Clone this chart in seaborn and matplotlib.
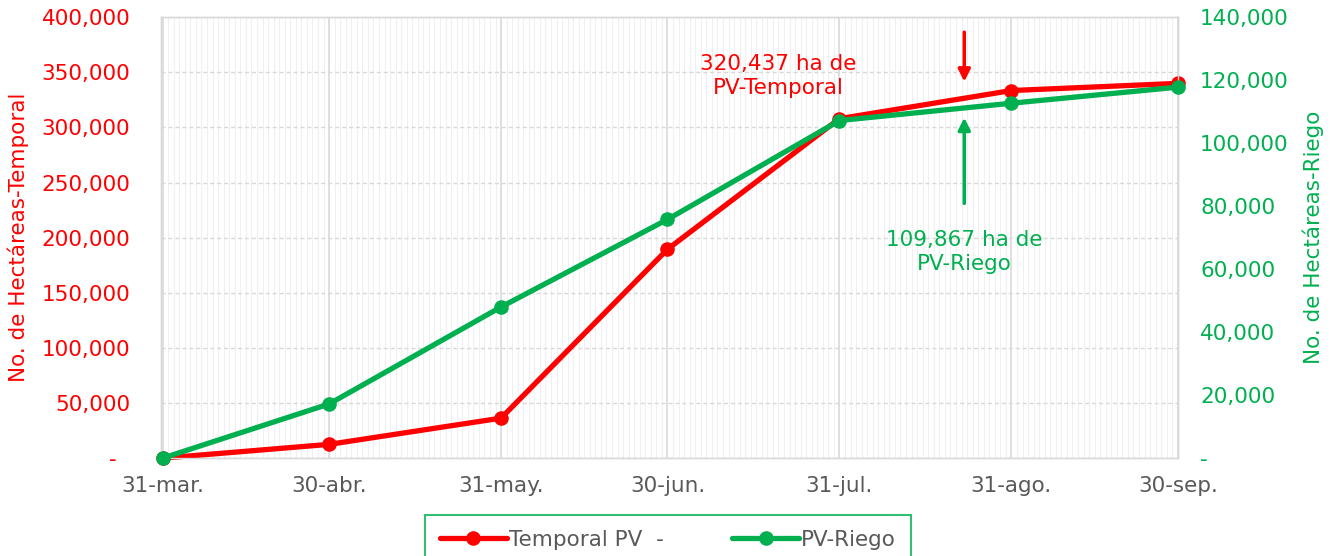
import matplotlib
matplotlib.use("Agg")
import matplotlib.pyplot as plt
import matplotlib.dates as mdates
import matplotlib.ticker as mticker
from matplotlib.lines import Line2D
import seaborn as sns
import pandas as pd

fechas = ["2023-03-31", "2023-04-30", "2023-05-31", "2023-06-30",
          "2023-07-31", "2023-08-31", "2023-09-30"]
etiquetas_x = ["31-mar.", "30-abr.", "31-may.", "30-jun.", "31-jul.", "31-ago.", "30-sep."]
temporal = [0, 12500, 36300, 189500, 308000, 333500, 340000]
riego = [0, 17200, 48000, 75800, 107200, 112700, 117800]
ticks_izq = [0, 50000, 100000, 150000, 200000, 250000, 300000, 350000, 400000]
ticks_der = [0, 20000, 40000, 60000, 80000, 100000, 120000, 140000]

ROJO = "#FF0000"
VERDE = "#00B050"
GRIS = "#595959"
FS = 15.5

sns.set_style("white")
plt.rcParams['font.family'] = ['DejaVu Sans']

df = pd.DataFrame({"fecha": pd.to_datetime(fechas), "temporal": temporal, "riego": riego})

fig = plt.figure(figsize=(13.4, 5.56), dpi=100)
ax = fig.add_axes([0.120, 0.176, 0.759, 0.793])
ax2 = ax.twinx()

sns.lineplot(data=df, x="fecha", y="temporal", ax=ax, color=ROJO, linewidth=3.8,
             marker="o", markersize=10.5, markeredgewidth=0, zorder=3, clip_on=False)
sns.lineplot(data=df, x="fecha", y="riego", ax=ax2, color=VERDE, linewidth=3.8,
             marker="o", markersize=10.5, markeredgewidth=0, zorder=3, clip_on=False)

ax.set_xlim(df["fecha"].iloc[0] - pd.Timedelta(hours=8), df["fecha"].iloc[-1])
ax.set_ylim(0, 400000)
ax2.set_ylim(0, 140000)

ax.set_xticks(df["fecha"])
ax.set_xticklabels(etiquetas_x, color=GRIS, fontsize=FS)
ax.xaxis.set_minor_locator(mdates.DayLocator())

fmt_izq = lambda v, p: "-  " if v == 0 else f"{int(v):,}"
fmt_der = lambda v, p: "-" if v == 0 else f"{int(v):,}"
ax.set_yticks(ticks_izq)
ax.yaxis.set_major_formatter(mticker.FuncFormatter(fmt_izq))
ax2.set_yticks(ticks_der)
ax2.yaxis.set_major_formatter(mticker.FuncFormatter(fmt_der))

ax.tick_params(axis="y", colors=ROJO, labelsize=FS, length=0, pad=22)
ax2.tick_params(axis="y", colors=VERDE, labelsize=FS, length=0, pad=16)
ax.tick_params(axis="x", which="major", length=5, color="#D9D9D9", pad=8)
ax.tick_params(axis="x", which="minor", length=0)

ax.grid(axis="y", which="major", color="#D9D9D9", linestyle=(0, (3, 2)), linewidth=1)
ax.grid(axis="x", which="major", color="#D9D9D9", linestyle="-", linewidth=1.2)
ax.grid(axis="x", which="minor", color="#F0F0F0", linestyle="-", linewidth=0.8)
ax.set_axisbelow(True)

for a in (ax, ax2):
    for s in a.spines.values():
        s.set_color("#D9D9D9")
        s.set_linewidth(1)

ax.set_xlabel("")
ax.set_ylabel("No. de Hectáreas-Temporal", color=ROJO, fontsize=FS, labelpad=9)
ax2.set_ylabel("No. de Hectáreas-Riego", color=VERDE, fontsize=FS, labelpad=10)

x_flecha = pd.Timestamp("2023-08-22 12:00")
ax.annotate("", xy=(x_flecha, 339000), xytext=(x_flecha, 389000),
            arrowprops=dict(arrowstyle="-|>", color=ROJO, lw=2.5, mutation_scale=18))
ax.text(pd.Timestamp("2023-07-20"), 347000, "320,437 ha de\nPV-Temporal", color=ROJO,
        fontsize=FS, ha="center", va="center", linespacing=1.25)
ax2.annotate("", xy=(x_flecha, 109000), xytext=(x_flecha, 80000),
             arrowprops=dict(arrowstyle="-|>", color=VERDE, lw=2.5, mutation_scale=18))
ax2.text(x_flecha, 65500, "109,867 ha de\nPV-Riego", color=VERDE,
         fontsize=FS, ha="center", va="center", linespacing=1.25)

handles = [Line2D([], [], color=ROJO, lw=3.8, marker="o", markersize=10.5, markeredgewidth=0),
           Line2D([], [], color=VERDE, lw=3.8, marker="o", markersize=10.5, markeredgewidth=0)]
leg = fig.legend(handles, ["Temporal PV  -", "PV-Riego"], loc="upper center",
                 bbox_to_anchor=(0.4985, 0.074), ncol=2, frameon=True, fancybox=False,
                 fontsize=FS, handlelength=3.1, columnspacing=3.2, borderpad=0.7,
                 handletextpad=0.1, borderaxespad=0)
leg.get_frame().set_edgecolor(VERDE)
leg.get_frame().set_linewidth(1.5)
for t in leg.get_texts():
    t.set_color(GRIS)
if ax.get_legend():
    ax.get_legend().remove()
if ax2.get_legend():
    ax2.get_legend().remove()

fig.savefig("out.png", dpi=100)
